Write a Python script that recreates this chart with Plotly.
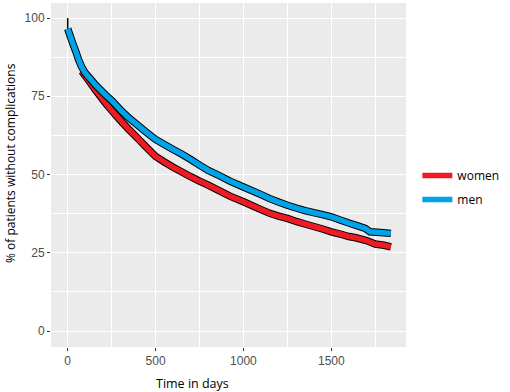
import plotly.graph_objects as go

men_days = [0, 25, 45, 62, 80, 100, 130, 157, 214, 250, 308, 350, 400, 450, 500, 600, 650, 700, 750, 800, 850,
            923, 1000, 1100, 1150, 1200, 1250, 1300, 1350, 1400, 1450, 1500, 1550, 1600, 1650, 1693, 1720,
            1780, 1839]
men = [96.6, 92.5, 89.5, 86.7, 84.3, 82.4, 80.5, 78.7, 75.5, 73.7, 70.2, 68, 65.7, 63.4, 61.2, 58, 56.5,
       54.8, 53, 51.3, 50, 47.9, 46, 43.6, 42.3, 41.2, 40.2, 39.3, 38.5, 37.8, 37.2, 36.5, 35.5, 34.5,
       33.6, 32.8, 31.7, 31.5, 31.2]
women_days = [81, 120, 157, 214, 250, 300, 350, 400, 450, 500, 550, 600, 650, 700, 750, 800, 850, 923,
              1000, 1100, 1150, 1200, 1250, 1300, 1350, 1400, 1450, 1500, 1550, 1600, 1640, 1700, 1750,
              1800, 1839]
women = [83.0, 80.0, 77.1, 72.9, 70.5, 67.3, 64.3, 61.5, 58.6, 55.8, 54, 52.3, 50.8, 49.3, 47.9, 46.6,
         45.2, 43.1, 41.3, 38.8, 37.6, 36.7, 36, 35, 34.2, 33.4, 32.6, 31.7, 31.0, 30.2, 29.8, 28.9, 27.8,
         27.4, 26.9]
start_value = 100
x_ticks = [0, 500, 1000, 1500]
y_ticks = [0, 25, 50, 75, 100]

RED = "#ED1C24"
BLUE = "#00A2E8"

fig = go.Figure()
fig.add_trace(go.Scatter(x=women_days, y=women, mode="lines", line=dict(color="black", width=7.5, simplify=False),
                         showlegend=False, hoverinfo="skip"))
fig.add_trace(go.Scatter(x=women_days, y=women, mode="lines", line=dict(color=RED, width=5.5, simplify=False),
                         name="women", legendgroup="w"))
fig.add_trace(go.Scatter(x=men_days, y=men, mode="lines", line=dict(color="black", width=7.5, simplify=False),
                         showlegend=False, hoverinfo="skip"))
fig.add_trace(go.Scatter(x=men_days, y=men, mode="lines", line=dict(color=BLUE, width=5.5, simplify=False),
                         name="men", legendgroup="m"))
fig.add_trace(go.Scatter(x=[men_days[0], men_days[0]], y=[start_value, men[0]], mode="lines",
                         line=dict(color="black", width=1.5), showlegend=False, hoverinfo="skip"))

axis_common = dict(
    showgrid=True, gridcolor="white", gridwidth=1.4,
    zeroline=False, showline=False, automargin=False,
    ticks="outside", ticklen=3, tickcolor="#333333", tickwidth=1,
    tickfont=dict(family="Liberation Sans, Arial", size=12, color="#4D4D4D"),
    minor=dict(showgrid=True, gridcolor="white", gridwidth=0.6, ticks=""),
)

fig.update_xaxes(range=[-95, 1925], tickvals=x_ticks, minor_dtick=250, minor_tick0=250, **axis_common)
fig.update_yaxes(range=[-5.1, 104.8], tickvals=y_ticks, minor_dtick=25, minor_tick0=12.5, **axis_common)

pl, pr, pt, pb = 51, 406, 3, 347
W, H = pr - pl, pb - pt

fig.update_layout(
    width=510, height=392,
    margin=dict(l=pl, r=510 - pr, t=pt, b=392 - pb, autoexpand=False),
    plot_bgcolor="#EBEBEB", paper_bgcolor="white",
    font=dict(family="Open Sans", size=12, color="black"),
    legend=dict(x=1.032, y=0.464, xanchor="left", yanchor="middle",
                font=dict(family="Open Sans", size=12, color="black"),
                tracegroupgap=5, bgcolor="rgba(0,0,0,0)"),
    annotations=[
        dict(text="Time in days", x=(192 - pl) / W, y=(pb - 383) / H, xref="paper", yref="paper",
             xanchor="center", yanchor="middle",
             showarrow=False, font=dict(family="Open Sans", size=12.5, color="black")),
        dict(text="% of patients without complications", x=(10 - pl) / W, y=(pb - 163) / H,
             xref="paper", yref="paper", xanchor="center", yanchor="middle", textangle=-90,
             showarrow=False, font=dict(family="Open Sans", size=12, color="black")),
    ],
)

fig.write_html("out.html", config={"displayModeBar": False},
               post_script="document.body.style.margin='0';document.body.style.padding='0';")
